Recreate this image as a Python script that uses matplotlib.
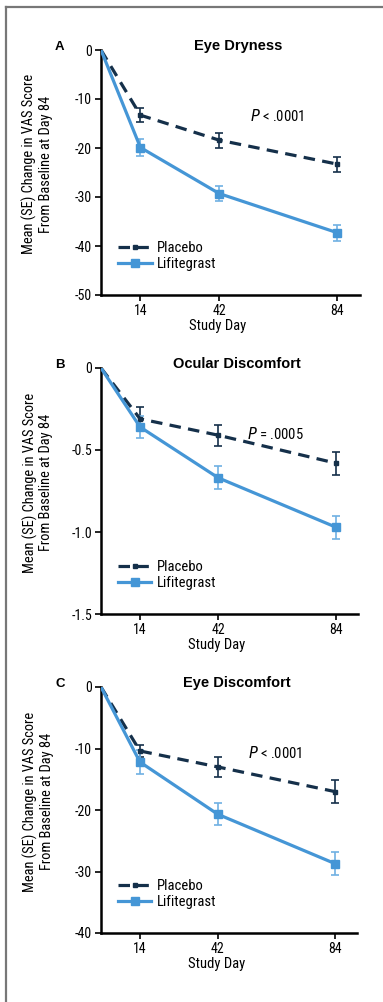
import matplotlib
matplotlib.use("Agg")
import matplotlib.pyplot as plt
from matplotlib.lines import Line2D

plt.rcParams["font.family"] = ["Roboto Condensed", "Liberation Sans Narrow", "Liberation Sans", "DejaVu Sans"]

days = [0, 14, 42, 84]

# panel A - eye dryness
dry_placebo = [0, -13.3, -18.4, -23.3]
dry_placebo_se = [0, 1.4, 1.5, 1.5]
dry_lifi = [0, -19.9, -29.3, -37.3]
dry_lifi_se = [0, 1.7, 1.5, 1.6]

# panel B - ocular discomfort
ocu_placebo = [0, -0.31, -0.41, -0.58]
ocu_placebo_se = [0, 0.07, 0.065, 0.07]
ocu_lifi = [0, -0.36, -0.67, -0.97]
ocu_lifi_se = [0, 0.065, 0.07, 0.07]

# panel C - eye discomfort
eye_placebo = [0, -10.4, -13.0, -17.0]
eye_placebo_se = [0, 1.0, 1.6, 1.8]
eye_lifi = [0, -12.2, -20.7, -28.7]
eye_lifi_se = [0, 1.9, 1.8, 1.8]

panels = [
    ("A", "Eye Dryness", dry_placebo, dry_placebo_se, dry_lifi, dry_lifi_se,
     (-50, 0), [0, -10, -20, -30, -40, -50], ["0", "-10", "-20", "-30", "-40", "-50"], "< .0001"),
    ("B", "Ocular Discomfort", ocu_placebo, ocu_placebo_se, ocu_lifi, ocu_lifi_se,
     (-1.5, 0), [0, -0.5, -1.0, -1.5], ["0", "-0.5", "-1.0", "-1.5"], "= .0005"),
    ("C", "Eye Discomfort", eye_placebo, eye_placebo_se, eye_lifi, eye_lifi_se,
     (-40, 0), [0, -10, -20, -30, -40], ["0", "-10", "-20", "-30", "-40"], "< .0001"),
]

NAVY = "#15304a"
BLUE = "#4596d6"
BLUE_ERR = "#6fb0e3"
BOLD = ["Liberation Sans", "DejaVu Sans"]

W, H = 383, 1002
fig = plt.figure(figsize=(W / 100, H / 100), dpi=100)

# partial border frame (top and left) of the original figure box
fig.add_artist(Line2D([6 / W, 6 / W], [0, 1 - 7 / H], color="#777777", lw=1.6))
fig.add_artist(Line2D([6 / W, 1], [1 - 7 / H, 1 - 7 / H], color="#777777", lw=1.6))

# axes boxes in pixels: left, top, right, bottom
boxes = [(101, 50, 360, 295), (101, 368, 358, 614), (101, 687, 357, 933)]

for (letter, title, pl, pl_se, lf, lf_se, ylim, yt, ytl, ptxt), (l, t, r, b) in zip(panels, boxes):
    ax = fig.add_axes([l / W, 1 - b / H, (r - l) / W, (b - t) / H])
    ax.errorbar(days[1:], pl[1:], yerr=pl_se[1:], fmt="none", ecolor=NAVY,
                elinewidth=1.2, capsize=3, capthick=1.2, zorder=3)
    ax.errorbar(days[1:], lf[1:], yerr=lf_se[1:], fmt="none", ecolor=BLUE_ERR,
                elinewidth=1.2, capsize=3, capthick=1.2, zorder=3)
    ax.plot(days, pl, color=NAVY, lw=2.3, ls=(0, (3.6, 2.3)), marker="s", ms=3.5,
            markevery=[1, 2, 3], label="Placebo", zorder=4)
    ax.plot(days, lf, color=BLUE, lw=2.3, marker="s", ms=6,
            markevery=[1, 2, 3], label="Lifitegrast", zorder=4)

    ax.set_xlim(0, 92)
    ax.set_ylim(*ylim)
    ax.set_xticks([14, 42, 84])
    ax.set_xticklabels(["14", "42", "84"])
    ax.set_yticks(yt)
    ax.set_yticklabels(ytl)
    ax.spines["top"].set_visible(False)
    ax.spines["right"].set_visible(False)
    ax.spines["left"].set_linewidth(1.8)
    ax.spines["bottom"].set_linewidth(1.8)
    ax.tick_params(axis="both", direction="out", length=4, width=1.2, labelsize=10, pad=2.5)

    ax.set_xlabel("Study Day", fontsize=10.5)
    ax.xaxis.set_label_coords(0.45, -0.098)
    ax.set_ylabel("Mean (SE) Change in VAS Score\nFrom Baseline at Day 84", fontsize=10.4, linespacing=1.15)
    ax.yaxis.set_label_coords(-0.185, 0.533)

    ax.text(0.53, 1 + 4 / 245, title, transform=ax.transAxes, ha="center", va="center",
            fontsize=10.5, fontweight="bold", family=BOLD)
    ax.text(-0.16, 1 + 3 / 245, letter, transform=ax.transAxes, ha="center", va="center",
            fontsize=9.5, fontweight="bold", family=BOLD)
    ax.text(0.68, 0.73, "$P$ " + ptxt, transform=ax.transAxes, ha="center", va="center",
            fontsize=10.5)

    ax.legend(loc="lower left", bbox_to_anchor=(0.043, 0.075), frameon=False, fontsize=10.5,
              handlelength=2.3, handletextpad=0.4, labelspacing=0.1, borderaxespad=0)

fig.savefig("out.png", dpi=100)
